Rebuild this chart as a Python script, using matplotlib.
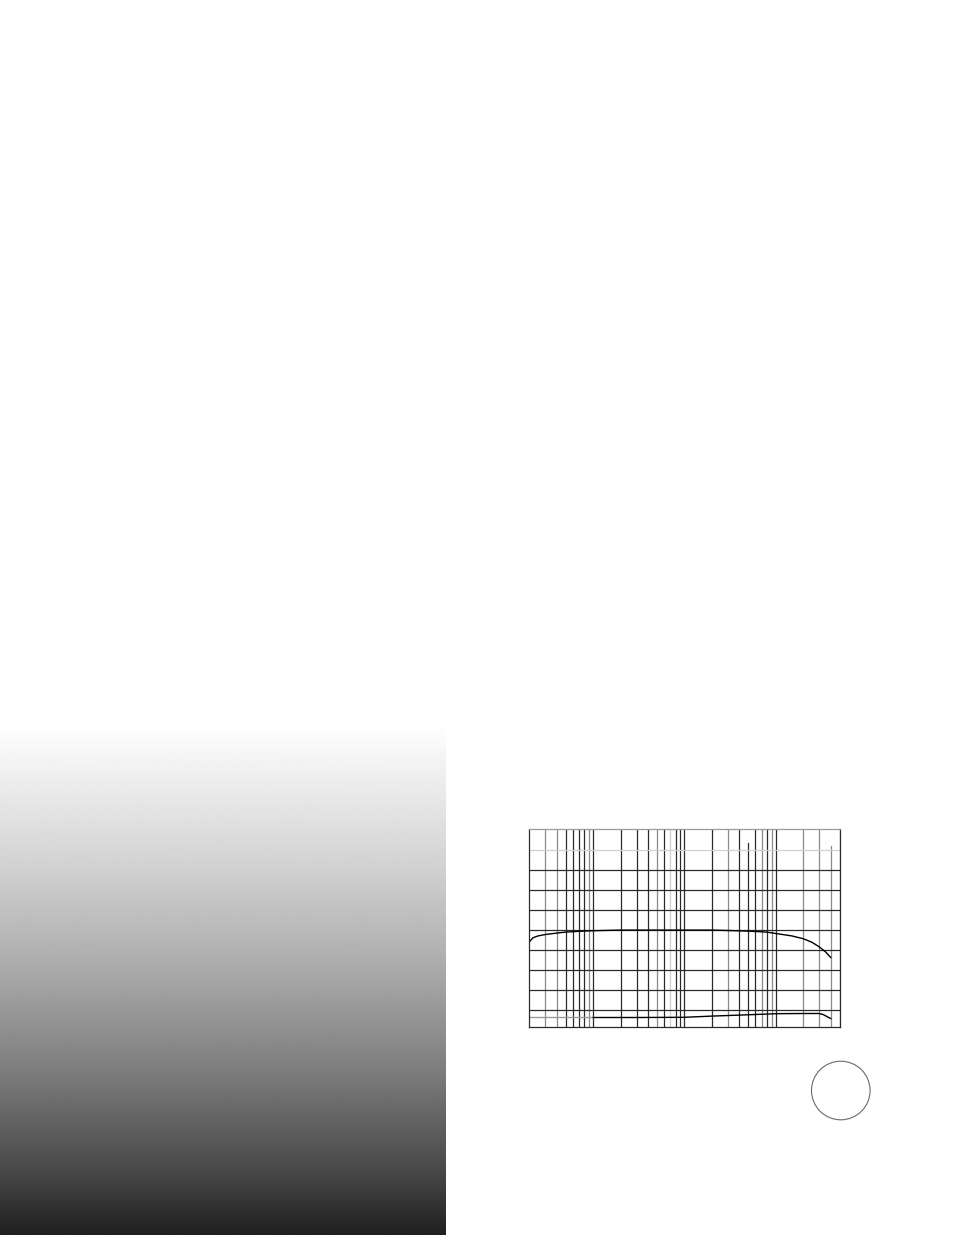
import matplotlib
matplotlib.use('Agg')
import matplotlib.pyplot as plt
from matplotlib.patches import Ellipse
import numpy as np

# upper trace: frequency response (dB)
resp_freq = [20, 22, 25, 30, 40, 50, 70, 100, 200, 500, 1000, 2000, 3000, 5000, 8000,
             10000, 15000, 20000, 25000, 30000, 35000, 40000]
resp_db = [-5.9, -3.8, -2.9, -2.2, -1.5, -1.0, -0.6, -0.3, 0.0, 0.0, 0.0, 0.0, -0.2, -0.5,
           -1.0, -1.7, -2.9, -4.3, -6.1, -8.4, -10.8, -13.7]

# lower trace
low_freq = [100, 300, 1000, 2000, 4000, 6000, 10000, 20000, 30000, 33000, 40000]
low_db = [-43.7, -43.7, -43.6, -43.0, -42.5, -42.2, -41.8, -41.7, -41.7, -42.2, -44.2]
low_lead_freq = [20, 100]
low_lead_db = [-43.7, -43.7]

# grid lines
grid_dark = [50, 60, 70, 80, 100, 200, 300, 400, 600, 800, 900, 1000, 2000, 4000,
             6000, 8000, 10000]
grid_gray = [30, 40, 90, 500, 3000, 7000, 9000, 20000, 30000, 50000]
grid_light = [700]
grid_short = [(5000, '#2a2a2a', 43.6), (40000, '#8a8a8a', 42.0)]
h_levels = [30, 20, 10, 0, -10, -20, -30, -40]
h_light = [40]

W, H = 954, 1235
fig = plt.figure(figsize=(W / 100, H / 100), dpi=100)

# grey gradient panel at lower left
top_px = 725
gax = fig.add_axes([0, 0, 446 / W, (H - top_px) / H])
rows = np.arange(H - top_px)
shade = np.interp(rows, [0, 25, 140, 240, 340, 440, 510], [255, 247, 210, 172, 128, 76, 32])
gax.imshow((shade / 255.0)[:, None], cmap='gray', vmin=0, vmax=1, aspect='auto',
           interpolation='bilinear')
gax.axis('off')

# chart
x0, x1, y0, y1 = 529.3, 840.3, 829.3, 1027.3
ax = fig.add_axes([x0 / W, (H - y1) / H, (x1 - x0) / W, (y1 - y0) / H])
ax.set_xscale('log')
ax.set_xlim(20, 51000)
ax.set_ylim(-48.6, 50.4)

for f in grid_dark:
    ax.axvline(f, color='#2a2a2a', lw=0.9)
for f in grid_gray:
    ax.axvline(f, color='#8a8a8a', lw=0.9)
for f in grid_light:
    ax.axvline(f, color='#cfcfcf', lw=0.9)
for f, c, ytop in grid_short:
    ax.plot([f, f], [-48.6, ytop], color=c, lw=0.9)
for v in h_levels:
    ax.axhline(v, color='#2a2a2a', lw=0.9)
for v in h_light:
    ax.axhline(v, color='#d0d0d0', lw=0.9)

ax.plot(resp_freq, resp_db, color='black', lw=1.0)
ax.plot(low_lead_freq, low_lead_db, color='#9a9a9a', lw=1.0)
ax.plot(low_freq, low_db, color='black', lw=1.0)

for side in ['left', 'right', 'bottom']:
    ax.spines[side].set_color('#2a2a2a')
    ax.spines[side].set_linewidth(0.9)
ax.spines['top'].set_color('#9a9a9a')
ax.spines['top'].set_linewidth(0.9)
ax.set_xticks([])
ax.set_yticks([])
ax.minorticks_off()
ax.tick_params(which='both', length=0, labelbottom=False, labelleft=False)

# circle below the chart
cx, cy, r = 840.8, 1090.5, 29.3
fig.patches.append(Ellipse((cx / W, 1 - cy / H), 2 * r / W, 2 * r / H,
                           transform=fig.transFigure, fill=False,
                           edgecolor='#6a6a6a', lw=0.8))

fig.savefig('out.png', dpi=100)
